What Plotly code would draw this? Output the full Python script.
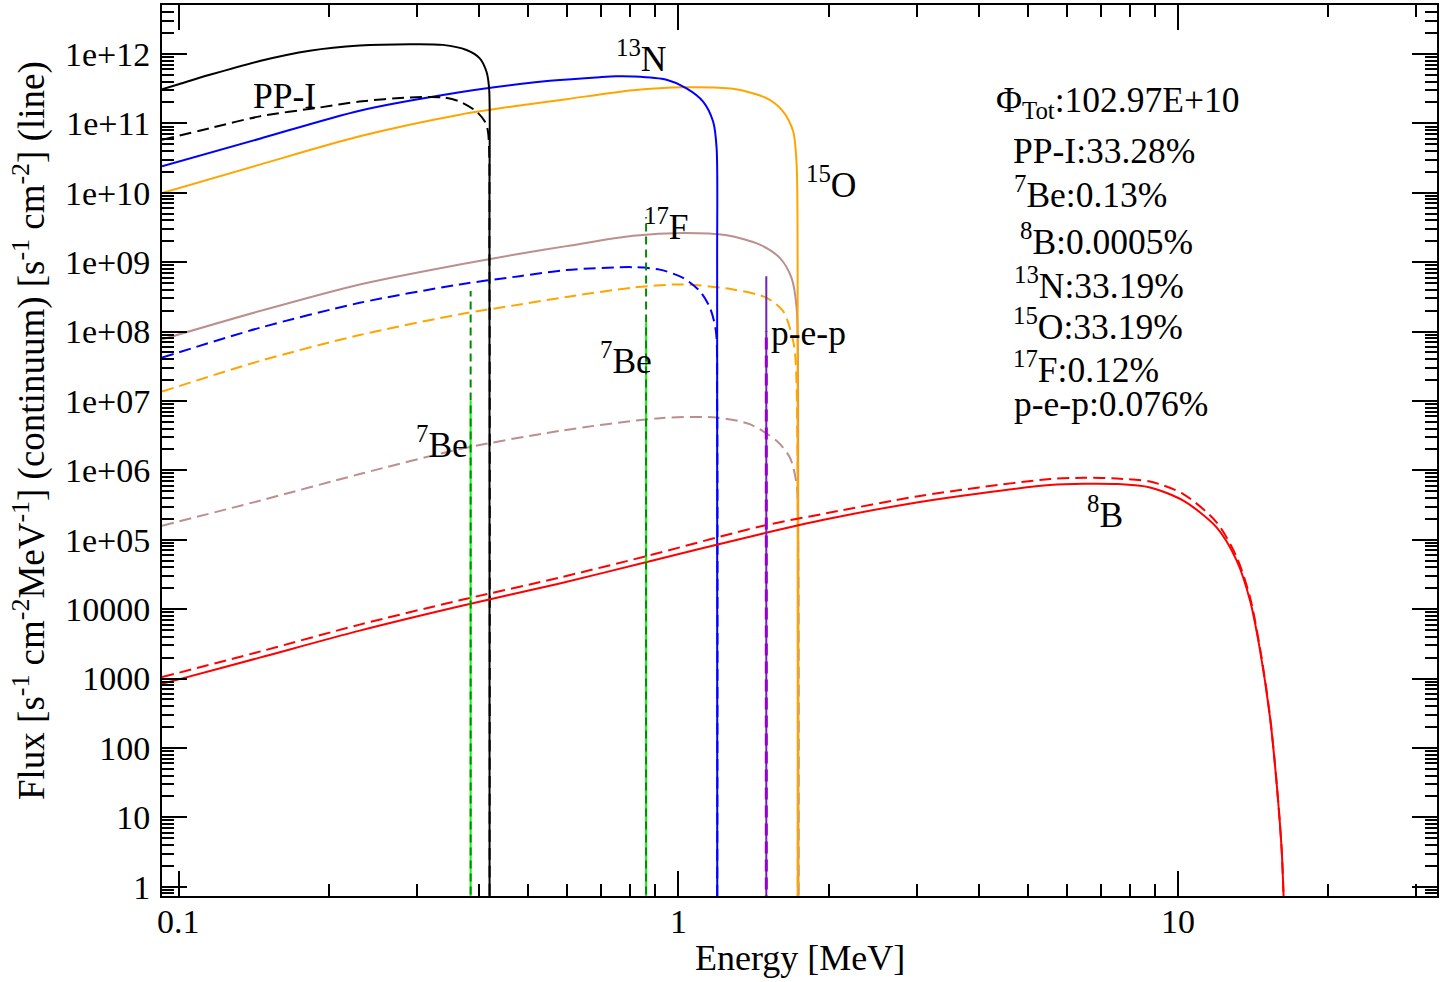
import plotly.graph_objects as go
import math

# ---------------- data ----------------
# pp (PP-I) continuum
pp_E = [0.0926, 0.1, 0.1154, 0.1453, 0.1829, 0.2303, 0.290, 0.3377, 0.3767, 0.4005, 0.413, 0.4181, 0.4188, 0.4190]
pp_F = [3.1e11, 3.66e11, 5.0e11, 7.9e11, 1.11e12, 1.32e12, 1.38e12, 1.35e12, 1.14e12, 8.65e11, 5.57e11, 3.2e11, 7.5e9, 0.5]
ppd_E = [0.0926, 0.1154, 0.1453, 0.1915, 0.2303, 0.290, 0.3382, 0.3652, 0.3945, 0.41, 0.416, 0.4188, 0.4190]
ppd_F = [5.8e10, 8.5e10, 1.26e11, 1.69e11, 2.06e11, 2.36e11, 2.36e11, 2.06e11, 1.48e11, 1.06e11, 7.6e10, 1e9, 0.5]

# 13N
n_E = [0.0926, 0.1453, 0.2303, 0.3652, 0.4817, 0.5531, 0.6965, 0.75, 0.8118, 0.9471, 1.0385, 1.121, 1.174, 1.193, 1.196, 1.1965]
n_F = [2.4e10, 6.0e10, 1.52e11, 2.8e11, 3.69e11, 4.1e11, 4.62e11, 4.75e11, 4.72e11, 4.24e11, 3.2e11, 2.06e11, 1.06e11, 4.4e10, 1e9, 0.5]
nd_E = [0.0926, 0.1453, 0.2303, 0.3652, 0.4817, 0.5973, 0.8118, 0.918, 1.0223, 1.104, 1.157, 1.189, 1.196, 1.1965]
nd_F = [4.2e7, 1.13e8, 2.59e8, 4.77e8, 6.28e8, 7.7e8, 8.46e8, 7.8e8, 5.93e8, 3.82e8, 2.2e8, 1.02e8, 1e7, 0.5]

# 15O
o_E = [0.0926, 0.1453, 0.2303, 0.3652, 0.4817, 0.5973, 0.8118, 1.0223, 1.2875, 1.502, 1.621, 1.698, 1.725, 1.733, 1.7335]
o_F = [9.9e9, 2.54e10, 6.5e10, 1.33e11, 1.81e11, 2.23e11, 3.0e11, 3.31e11, 3.14e11, 2.3e11, 1.48e11, 7.6e10, 2.54e10, 1e9, 0.5]
od_E = [0.0926, 0.1453, 0.2303, 0.3652, 0.4817, 0.5973, 0.8118, 1.0223, 1.2875, 1.502, 1.621, 1.672, 1.711, 1.733, 1.7335]
od_F = [1.36e7, 3.76e7, 8.9e7, 1.77e8, 2.45e8, 3.15e8, 4.3e8, 4.77e8, 4.04e8, 3.06e8, 1.97e8, 1.13e8, 5.2e7, 1e6, 0.5]

# 17F
f_E = [0.0926, 0.1453, 0.2303, 0.3652, 0.4817, 0.5973, 0.8118, 1.0223, 1.249, 1.456, 1.596, 1.685, 1.725, 1.737, 1.74]
f_F = [7.7e7, 1.97e8, 4.77e8, 9.25e8, 1.32e9, 1.7e9, 2.4e9, 2.63e9, 2.44e9, 1.79e9, 1.15e9, 5.93e8, 2.2e8, 1e7, 0.5]
fd_E = [0.0926, 0.1453, 0.2303, 0.3652, 0.579, 0.918, 1.193, 1.39, 1.573, 1.672, 1.725, 1.737, 1.74]
fd_F = [1.59e5, 3.65e5, 8.83e5, 2.02e6, 3.7e6, 5.64e6, 5.75e6, 4.62e6, 2.66e6, 1.53e6, 6.3e5, 1e5, 0.5]

# 8B
b_E = [0.0926, 0.1, 0.1453, 0.2303, 0.3652, 0.579, 0.861, 1.479, 2.0, 3.0, 4.0, 5.54, 6.5, 7.54, 8.79, 10.25, 11.95, 13.11, 13.94, 14.6, 15.28, 15.76, 16.13, 16.3]
b_F = [842, 971, 2000, 4900, 1.1e4, 2.34e4, 4.73e4, 1.23e5, 2.0e5, 3.45e5, 4.65e5, 6.13e5, 6.4e5, 6.34e5, 5.66e5, 3.65e5, 1.51e5, 5.0e4, 1.33e4, 2540, 279, 30.7, 3.37, 0.5]
bd_E = [0.0926, 0.1453, 0.2303, 0.3652, 0.579, 0.861, 1.479, 2.0, 3.0, 4.0, 5.54, 6.5, 7.54, 8.79, 10.25, 11.95, 13.11, 13.94, 14.6, 15.28, 15.76, 16.13, 16.3]
bd_F = [1047, 2440, 5980, 1.34e4, 2.85e4, 5.77e4, 1.59e5, 2.44e5, 4.2e5, 5.67e5, 7.48e5, 7.8e5, 7.6e5, 6.9e5, 4.55e5, 1.78e5, 5.6e4, 1.48e4, 2700, 290, 31, 3.4, 0.5]

# lines (7Be, pep): energy, height of solid line, height of dashed line
be_E = [0.384, 0.862]
be_F_solid = [1.0e7, 1.34e8]
be_F_dash = [3.82e8, 4.47e9]
pep_E = [1.50]
pep_F_solid = [6.28e8]
pep_F_dash = [1.02e8]
line_floor = 0.5

# tick labels
x_tickvals = [0.1, 1, 10]
x_ticktext = ["0.1", "1", "10"]
y_tickvals = [1, 10, 100, 1000, 10000, 1e5, 1e6, 1e7, 1e8, 1e9, 1e10, 1e11, 1e12]
y_ticktext = ["1", "10", "100", "1000", "10000", "1e+05", "1e+06", "1e+07", "1e+08",
              "1e+09", "1e+10", "1e+11", "1e+12"]

# ---------------- figure ----------------
FONT = "Liberation Serif"
W, H = 1442, 982
L, R, T, B = 162, 5, 3, 86
PW, PH = W - L - R, H - T - B

fig = go.Figure()

def curve(x, y, color, dash=None, width=2, smooth=True):
    line = dict(color=color, width=width, dash=dash)
    if smooth:
        line.update(shape="spline", smoothing=0.8)
    fig.add_trace(go.Scatter(x=x, y=y, mode="lines", line=line,
                             showlegend=False, hoverinfo="skip"))

DASH = "12px,6px"
# continua
curve(f_E, f_F, "#bc8f8f")
curve(fd_E, fd_F, "#bc8f8f", DASH)
curve(od_E, od_F, "#ffa500", DASH)
curve(nd_E, nd_F, "#0000ff", DASH)
curve(o_E, o_F, "#ffa500")
curve(n_E, n_F, "#0000ff")
curve(pp_E, pp_F, "#000000")
curve(ppd_E, ppd_F, "#000000", DASH)
curve(b_E, b_F, "#ff0000")
curve(bd_E, bd_F, "#ff0000", DASH)

# lines
for e, fs, fdsh in zip(be_E, be_F_solid, be_F_dash):
    curve([e, e], [line_floor, fs], "#00ff00", smooth=False)
    curve([e, e], [line_floor, fdsh], "#008b00", "8px,5px", smooth=False)
for e, fs, fdsh in zip(pep_E, pep_F_solid, pep_F_dash):
    curve([e, e], [line_floor, fs], "#7221bc", smooth=False)
    curve([e, e], [line_floor, fdsh], "#9400d3", "12px,6px", 3, smooth=False)

y_minor = [m * 10.0 ** k for k in range(-1, 13) for m in range(2, 10)]
x_minor = [m * 10.0 ** k for k in range(-2, 2) for m in range(2, 10)]

axis_common = dict(type="log", showgrid=False, zeroline=False, showline=True,
                   linecolor="black", linewidth=2, mirror="allticks",
                   ticks="inside", ticklen=25, tickwidth=1.5, tickcolor="black",
                   tickfont=dict(family=FONT, size=34, color="black"),
                   tickmode="array")

fig.update_xaxes(**axis_common, range=[-1.0334, 1.5185],
                 tickvals=x_tickvals, ticktext=x_ticktext, showticklabels=False,
                 minor=dict(tickmode="array", tickvals=x_minor, ticks="inside",
                            ticklen=12, tickwidth=1.5, tickcolor="black", showgrid=False))
fig.update_yaxes(**axis_common, range=[-0.134, 12.705],
                 tickvals=y_tickvals, ticktext=y_ticktext, ticklabelstandoff=3,
                 minor=dict(tickmode="array", tickvals=y_minor, ticks="inside",
                            ticklen=12, tickwidth=1.5, tickcolor="black", showgrid=False))

def px2paper(px, py):
    return (px - L) / PW, (H - B - py) / PH

annots = []
AS = 35.5

def label(text, left, ypos, anchor="bottom", size=AS):
    x, y = px2paper(left - 1, ypos)
    annots.append(dict(text=text, x=x, y=y, xref="paper", yref="paper",
                       xanchor="left", yanchor=anchor, showarrow=False,
                       font=dict(family=FONT, size=size, color="black")))

# curve labels (bottom of text box)
label("PP-I", 252, 116)
label("<sup>13</sup>N", 615, 79)
label("<sup>15</sup>O", 805, 205)
label("<sup>17</sup>F", 643, 248)
label("<sup>7</sup>Be", 599, 382)
label("p-e-p", 770, 354)
label("<sup>7</sup>Be", 415, 466)
label("<sup>8</sup>B", 1086, 536)

# summary block
label("Φ<sub>Tot</sub>:102.97E+10", 995, 76, anchor="top")
label("PP-I:33.28%", 1012, 171.3)
label("<sup>7</sup>Be:0.13%", 1013, 215.3)
label("<sup>8</sup>B:0.0005%", 1019, 262.3)
label("<sup>13</sup>N:33.19%", 1013, 306.3)
label("<sup>15</sup>O:33.19%", 1012, 347.3)
label("<sup>17</sup>F:0.12%", 1012, 390.8)
label("p-e-p:0.076%", 1013, 425)

# x tick labels
for v, t in zip(x_tickvals, x_ticktext):
    _, yy = px2paper(0, 922)
    annots.append(dict(text=t, x=math.log10(v), y=yy, xref="x", yref="paper",
                       xanchor="center", yanchor="middle", showarrow=False,
                       font=dict(family=FONT, size=34, color="black")))

# axis titles
xt, yt = px2paper(800, 958)
annots.append(dict(text="Energy [MeV]", x=xt, y=yt, xref="paper", yref="paper",
                   xanchor="center", yanchor="middle", showarrow=False,
                   font=dict(family=FONT, size=36, color="black")))
xt, yt = px2paper(30, 430)
annots.append(dict(text="Flux [s<sup>-1</sup> cm<sup>-2</sup>MeV<sup>-1</sup>] (continuum) "
                        "[s<sup>-1</sup> cm<sup>-2</sup>] (line)",
                   x=xt, y=yt, xref="paper", yref="paper", textangle=-90,
                   xanchor="center", yanchor="middle", showarrow=False,
                   font=dict(family=FONT, size=37, color="black")))

fig.update_layout(width=W, height=H, margin=dict(l=L, r=R, t=T, b=B),
                  paper_bgcolor="white", plot_bgcolor="white",
                  font=dict(family=FONT, size=34, color="black"),
                  annotations=annots, showlegend=False)

fig.write_html("out.html")
